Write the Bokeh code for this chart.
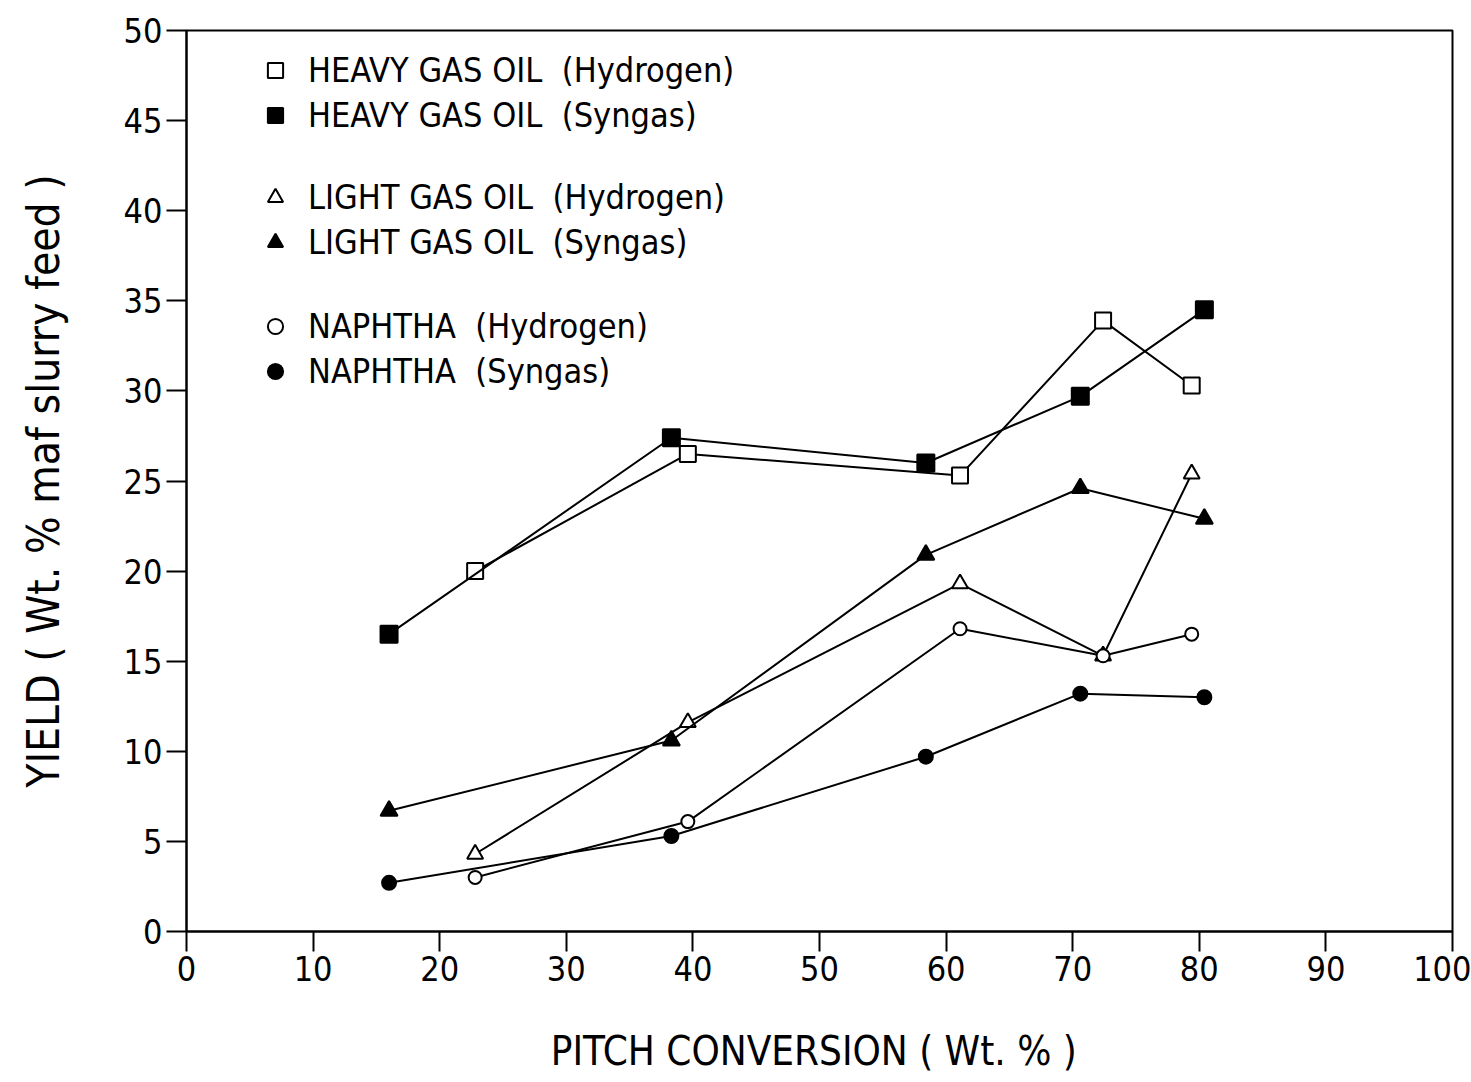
from bokeh.plotting import figure
from bokeh.models import Legend, LegendItem, ColumnDataSource, FixedTicker
from bokeh.embed import file_html
from bokeh.resources import INLINE

# ---- data ----
x_hydrogen = [22.8, 39.6, 61.1, 72.4, 79.4]
x_syngas = [16.0, 38.3, 58.4, 70.6, 80.4]
hgo_hydrogen = [20.0, 26.5, 25.3, 33.9, 30.3]
hgo_syngas = [16.5, 27.4, 26.0, 29.7, 34.5]
lgo_hydrogen = [4.3, 11.6, 19.3, 15.3, 25.4]
lgo_syngas = [6.7, 10.6, 20.9, 24.6, 22.9]
nap_hydrogen = [3.0, 6.1, 16.8, 15.3, 16.5]
nap_syngas = [2.7, 5.3, 9.7, 13.2, 13.0]

x_ticks = [0, 10, 20, 30, 40, 50, 60, 70, 80, 90, 100]
y_ticks = [0, 5, 10, 15, 20, 25, 30, 35, 40, 45, 50]

series_labels = [
    "HEAVY GAS OIL  (Hydrogen)",
    "HEAVY GAS OIL  (Syngas)",
    "LIGHT GAS OIL  (Hydrogen)",
    "LIGHT GAS OIL  (Syngas)",
    "NAPHTHA  (Hydrogen)",
    "NAPHTHA  (Syngas)",
]

FONT = "'DejaVu Sans Condensed', 'DejaVu Sans', sans-serif"

p = figure(width=1471, height=1082, x_range=(0, 100), y_range=(0, 50),
           output_backend="svg", toolbar_location=None,
           min_border_left=186, min_border_right=19, min_border_top=30, min_border_bottom=151)
p.background_fill_color = "white"
p.border_fill_color = "white"
p.outline_line_color = "black"
p.outline_line_width = 2
p.xgrid.visible = False
p.ygrid.visible = False

for ax in (p.xaxis[0], p.yaxis[0]):
    ax.axis_line_width = 2
    ax.major_tick_line_width = 2
    ax.minor_tick_line_color = None
    ax.major_tick_in = 0
    ax.major_label_text_font = FONT
    ax.major_label_text_font_size = "34px"
    ax.major_label_text_color = "black"
    ax.axis_label_text_font = FONT
    ax.axis_label_text_font_style = "normal"
    ax.axis_label_text_color = "black"

p.xaxis.ticker = FixedTicker(ticks=x_ticks)
p.yaxis.ticker = FixedTicker(ticks=y_ticks)
p.xaxis.major_tick_out = 20
p.yaxis.major_tick_out = 20
p.xaxis.major_label_standoff = 4
p.yaxis.major_label_standoff = 4
p.xaxis.axis_label = "PITCH  CONVERSION ( Wt. % )"
p.yaxis.axis_label = "YIELD ( Wt. % maf slurry feed )"
p.xaxis.axis_label_text_font_size = "40px"
p.yaxis.axis_label_text_font_size = "44px"
p.xaxis.axis_label_standoff = 44
p.yaxis.axis_label_standoff = 52

LW = 2

def series(xs, ys, marker, filled, size):
    src = ColumnDataSource(dict(x=xs, y=ys))
    p.line("x", "y", source=src, line_color="black", line_width=LW)
    return p.scatter("x", "y", source=src, marker=marker, size=size,
                     line_color="black", line_width=2,
                     fill_color="black" if filled else "white")

renderers = [
    series(x_hydrogen, hgo_hydrogen, "square", False, 16),
    series(x_syngas, hgo_syngas, "square", True, 17),
    series(x_hydrogen, lgo_hydrogen, "triangle", False, 16),
    series(x_syngas, lgo_syngas, "triangle", True, 17),
    series(x_hydrogen, nap_hydrogen, "circle", False, 13),
    series(x_syngas, nap_syngas, "circle", True, 14),
]

frame_h = 1082 - 30 - 151
tops = [24, 151, 280]
for i in range(3):
    items = [LegendItem(label=series_labels[2 * i], renderers=[renderers[2 * i]]),
             LegendItem(label=series_labels[2 * i + 1], renderers=[renderers[2 * i + 1]])]
    leg_h = 2 * 38 + 5
    leg = Legend(items=items, location=(70, frame_h - tops[i] - leg_h),
                 orientation="vertical", glyph_width=38, glyph_height=38,
                 label_height=38, spacing=5, padding=0, margin=0,
                 label_standoff=14, border_line_color=None,
                 background_fill_alpha=0,
                 label_text_font=FONT, label_text_font_size="34px",
                 label_text_color="black")
    p.add_layout(leg)

open("out.html", "w").write(file_html(p, INLINE))
